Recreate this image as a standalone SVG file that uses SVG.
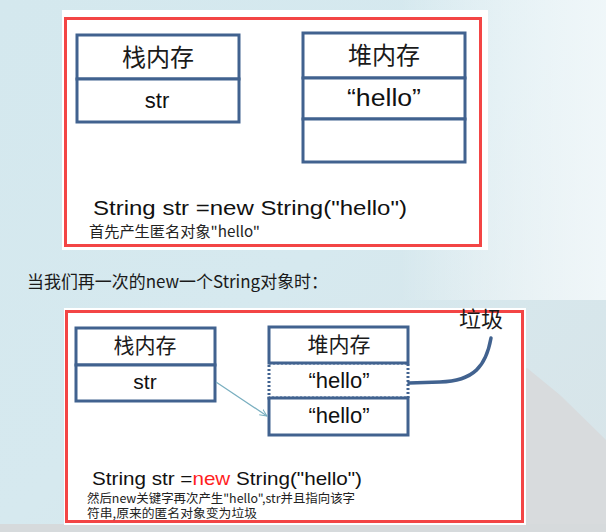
<svg xmlns="http://www.w3.org/2000/svg" width="606" height="532" viewBox="0 0 606 532">
<defs>
<linearGradient id="bg" x1="0" y1="0" x2="1" y2="1">
<stop offset="0" stop-color="#d4e8ee"/>
<stop offset="0.5" stop-color="#d6e9ef"/>
<stop offset="1" stop-color="#d8e4e8"/>
</linearGradient>
<linearGradient id="hl" x1="0" y1="0" x2="1" y2="0">
<stop offset="0" stop-color="#ffffff" stop-opacity="0"/>
<stop offset="1" stop-color="#f2f8fa" stop-opacity="0.9"/>
</linearGradient>
<marker id="arr" viewBox="0 0 10 10" refX="9" refY="5" markerWidth="8" markerHeight="8" orient="auto" markerUnits="userSpaceOnUse">
<path d="M0,1 L9,5 L0,9" fill="none" stroke="#78aebf" stroke-width="1.2"/>
</marker>
<style>
.panel{fill:#ffffff}
.red{fill:none;stroke:#f34545;stroke-width:3}
.box{fill:#ffffff;stroke:#41628f;stroke-width:3}
.dot{fill:#ffffff;stroke:#41628f;stroke-width:3;stroke-dasharray:2 2}
.cjk{font-family:"Noto Sans CJK SC","Noto Sans",sans-serif;fill:#1a1a1a}
.lat{font-family:"Liberation Sans","Noto Sans CJK SC",sans-serif;fill:#111111}
.cap{font-family:"Noto Sans CJK SC","Liberation Sans",sans-serif;fill:#222222}
</style>
</defs>
<rect x="0" y="0" width="606" height="532" fill="url(#bg)"/>
<rect x="400" y="0" width="206" height="300" fill="url(#hl)"/>
<path d="M527,368 L560,395 L606,440 L606,532 L520,532 L520,372 Z" fill="#d8dbdd"/>
<rect x="0" y="524" width="606" height="8" fill="#d6dadc"/>

<!-- Panel 1 -->
<g id="panel1">
<rect class="panel" x="62" y="10" width="426" height="240"/>
<rect class="red" x="65.5" y="18.5" width="415" height="227"/>
</g>
<g id="stack1">
<rect class="box" x="77" y="35" width="162" height="44"/>
<rect class="box" x="77" y="79" width="162" height="43"/>
<text class="cjk" x="158" y="66" font-size="24" text-anchor="middle">栈内存</text>
<text class="lat" x="157" y="108" font-size="22" text-anchor="middle">str</text>
</g>
<g id="heap1">
<rect class="box" x="303" y="33" width="162" height="45"/>
<rect class="box" x="303" y="78" width="162" height="41"/>
<rect class="box" x="303" y="119" width="162" height="43"/>
<text class="cjk" x="384" y="64" font-size="24" text-anchor="middle">堆内存</text>
<text class="lat" x="384" y="106" font-size="23" text-anchor="middle" textLength="74" lengthAdjust="spacingAndGlyphs">“hello”</text>
</g>
<g id="code1">
<text class="lat" x="93" y="215" font-size="21" textLength="314" lengthAdjust="spacingAndGlyphs">String str =new String("hello")</text>
<text class="cap" x="89" y="237" font-size="15" textLength="171" lengthAdjust="spacingAndGlyphs">首先产生匿名对象"hello"</text>
</g>

<!-- Middle text -->
<g id="intro">
<text class="cjk" x="27" y="288" font-size="17" fill="#111" textLength="301" lengthAdjust="spacingAndGlyphs">当我们再一次的new一个String对象时：</text>
</g>

<!-- Panel 2 -->
<g id="panel2">
<rect class="panel" x="64" y="308" width="462" height="217"/>
<rect class="red" x="66.5" y="311.5" width="456" height="210"/>
</g>
<g id="stack2">
<rect class="box" x="76" y="328" width="139" height="37"/>
<rect class="box" x="76" y="365" width="139" height="36"/>
<text class="cjk" x="145" y="353" font-size="21" text-anchor="middle">栈内存</text>
<text class="lat" x="145" y="389" font-size="21" text-anchor="middle">str</text>
</g>
<g id="heap2">
<rect class="dot" x="269" y="363" width="139" height="35"/>
<rect class="box" x="269" y="327" width="139" height="36"/>
<rect class="box" x="269" y="398" width="139" height="37"/>
<text class="cjk" x="339" y="352" font-size="21" text-anchor="middle">堆内存</text>
<text class="lat" x="339" y="388" font-size="22" text-anchor="middle">“hello”</text>
<text class="lat" x="339" y="423" font-size="22" text-anchor="middle">“hello”</text>
</g>
<g id="garbage">
<text class="cjk" x="459" y="327" font-size="22" fill="#222">垃圾</text>
</g>
<g id="connectors">
<line x1="216" y1="382" x2="267" y2="416" stroke="#78aebf" stroke-width="1.2" marker-end="url(#arr)"/>
<path d="M409,383 L440,382 C474,381 486,366 491,338" fill="none" stroke="#41628f" stroke-width="3.5" stroke-linecap="round"/>
</g>
<g id="code2">
<text class="lat" x="92" y="485" font-size="19" textLength="270" lengthAdjust="spacingAndGlyphs">String str =<tspan fill="#ff1f1f">new</tspan> String("hello")</text>
<text class="cap" x="87" y="503" font-size="12.5" textLength="268" lengthAdjust="spacingAndGlyphs">然后new关键字再次产生"hello",str并且指向该字</text>
<text class="cap" x="87" y="518" font-size="12.5" textLength="170" lengthAdjust="spacingAndGlyphs">符串,原来的匿名对象变为垃圾</text>
</g>
</svg>
